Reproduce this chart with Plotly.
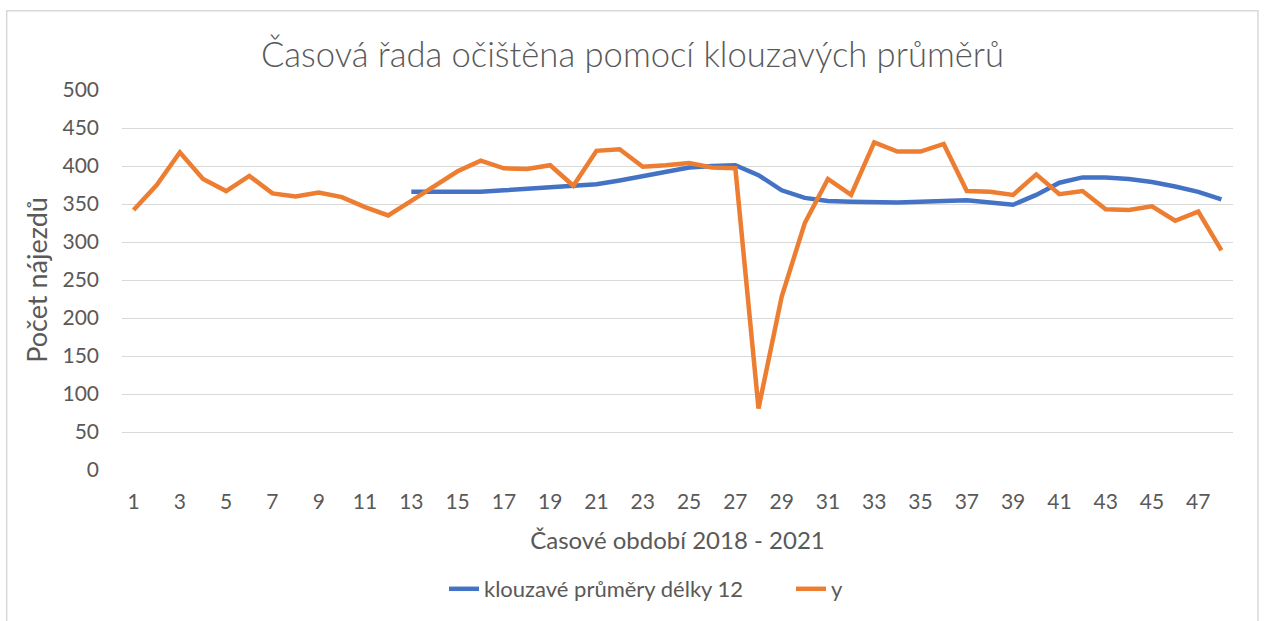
import plotly.graph_objects as go

periods = list(range(1, 49))

y_values = [342, 375, 418, 383, 367, 387, 364, 360, 365, 359, 346, 335,
            354, 373, 393, 407, 397, 396, 401, 374, 420, 422, 399, 401,
            404, 398, 397, 81, 228, 325, 383, 362, 431, 419, 419, 429,
            367, 366, 362, 389, 363, 367, 343, 342, 347, 328, 340, 289]

moving_avg = [None] * 12 + [366, 366, 366, 366, 368, 370, 372, 374, 376, 381,
                            387, 392, 398, 400, 401, 388, 368, 358, 354, 353,
                            352, 352, 353, 354, 355, 352, 349, 362, 378, 385,
                            385, 383, 379, 373, 366, 356]

x_ticks = list(range(1, 48, 2))
y_ticks = list(range(0, 501, 50))

FONT = "Lato"
GREY = "#595959"

fig = go.Figure()
fig.add_trace(go.Scatter(x=periods, y=moving_avg, mode="lines",
                         name="klouzavé průměry délky 12",
                         line=dict(color="#4472C4", width=4.5)))
fig.add_trace(go.Scatter(x=periods, y=y_values, mode="lines", name="y",
                         line=dict(color="#ED7D31", width=4.5)))

# outer chart border
fig.add_shape(type="rect", xref="paper", yref="paper",
              x0=-0.1038, x1=1.0225, y0=-0.45, y1=1.2087,
              line=dict(color="#D9D9D9", width=1.5), layer="below")

fig.update_layout(
    width=1265, height=621,
    margin=dict(l=122, r=32, t=90, b=151),
    paper_bgcolor="white", plot_bgcolor="white",
    font=dict(family=FONT, color=GREY, size=20),
    title=dict(text="Časová řada očištěna pomocí klouzavých průměrů",
               x=0.5, xref="container", xanchor="center",
               y=1 - 55 / 621, yref="container", yanchor="middle",
               font=dict(family=FONT, size=34.6, color=GREY, weight=300)),
    showlegend=True,
    legend=dict(orientation="h", x=444 / 1265, xref="container",
                xanchor="left",
                y=1 - 589 / 621, yref="container", yanchor="middle",
                font=dict(size=22, color=GREY),
                entrywidth=302, entrywidthmode="pixels",
                traceorder="normal"),
)
fig.update_xaxes(range=[0.5, 48.5], tickmode="array", tickvals=x_ticks,
                 ticktext=[str(v) for v in x_ticks],
                 showgrid=False, zeroline=False, showline=False,
                 ticks="", ticklabelstandoff=17,
                 tickfont=dict(size=21, color=GREY),
                 title=dict(text="Časové období 2018 - 2021", standoff=20,
                            font=dict(size=24, color=GREY)))
fig.update_yaxes(range=[0, 500], tickmode="array", tickvals=y_ticks,
                 showgrid=True, gridcolor="#D9D9D9", gridwidth=1.3,
                 zeroline=False, showline=False, ticks="",
                 ticklabelstandoff=22,
                 tickfont=dict(size=21, color=GREY),
                 title=dict(text="Počet nájezdů", standoff=7,
                            font=dict(size=27, color=GREY)))

fig.write_html("out.html", config={"displayModeBar": False},
               post_script="document.body.style.margin='0';")
